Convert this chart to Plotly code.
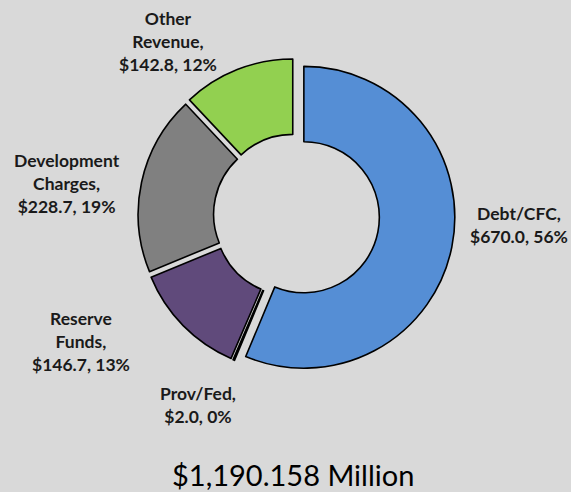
import plotly.graph_objects as go

labels = ["Debt/CFC", "Prov/Fed", "Reserve Funds", "Development Charges", "Other Revenue"]
label_text = ["Debt/CFC,", "Prov/Fed,", "Reserve<br>Funds,", "Development<br>Charges,", "Other<br>Revenue,"]
values = [670.0, 2.0, 146.7, 228.7, 142.8]
pct_labels = ["56%", "0%", "13%", "19%", "12%"]
colors = ["#558ED5", "#262626", "#604A7B", "#808080", "#92D050"]
pulls = [0.06, 0.04, 0.04, 0.04, 0.04]
total_text = "$1,190.158 Million"

# label placement (paper coordinates), style only
label_x = [0.909, 0.347, 0.142, 0.117, 0.294]
label_y = [0.543, 0.177, 0.305, 0.628, 0.915]

texts = [f"{t}<br>${v:.1f}, {p}" for t, v, p in zip(label_text, values, pct_labels)]

fig = go.Figure(go.Pie(
    labels=labels,
    values=values,
    textinfo="none",
    hole=0.5,
    sort=False,
    direction="clockwise",
    rotation=0,
    pull=pulls,
    marker=dict(colors=colors, line=dict(color="#000000", width=1.6)),
    domain=dict(x=[0.2364, 0.7968], y=[0.232, 0.892]),
    showlegend=False,
    hoverinfo="label+value",
))

for t, lx, ly in zip(texts, label_x, label_y):
    fig.add_annotation(
        text=t, x=lx, y=ly, xref="paper", yref="paper",
        xanchor="center", yanchor="middle", showarrow=False, align="center",
        font=dict(family="Lato", size=17.5, color="#1a1a1a", weight="bold"),
    )

fig.add_annotation(
    text=total_text, x=0.514, y=0.036, xref="paper", yref="paper",
    xanchor="center", yanchor="middle", showarrow=False,
    font=dict(family="Lato", size=29, color="#000000"),
)

fig.update_layout(
    width=571, height=492,
    margin=dict(l=0, r=0, t=0, b=0),
    paper_bgcolor="#D9D9D9",
    plot_bgcolor="#D9D9D9",
)

fig.write_html(
    "out.html",
    config={"displayModeBar": False},
    post_script="document.body.style.margin='0';document.body.style.padding='0';document.body.style.overflow='hidden';",
)
